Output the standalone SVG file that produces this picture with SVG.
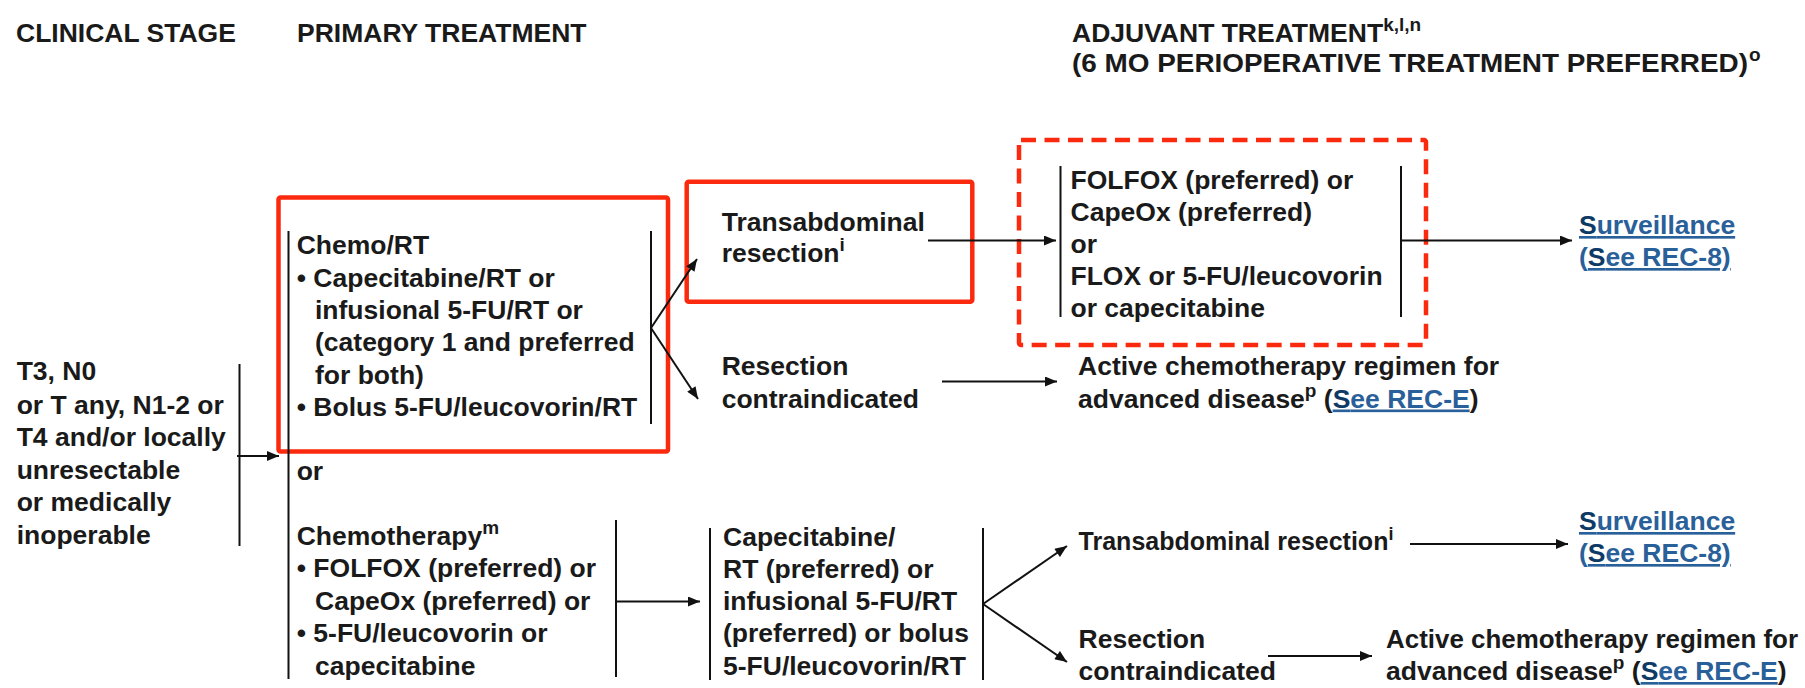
<svg xmlns="http://www.w3.org/2000/svg" width="1805" height="688" viewBox="0 0 1805 688">
<defs>
<style>
text{font-family:"Liberation Sans",Arial,sans-serif;font-size:26.5px;font-weight:bold;fill:#1a1a1a}
.sup{font-size:19px}
.lk{fill:#2a6099;text-decoration:underline}
.lkS{fill:#0e3a66}
.br{stroke:#111;stroke-width:2;fill:none}
.ar{stroke:#111;stroke-width:2;fill:none;marker-end:url(#ah)}
.red{fill:none;stroke:#fb2a0e;stroke-width:4.5}
.dash{fill:none;stroke:#fb2a0e;stroke-width:4.5;stroke-dasharray:15 8.5}
</style>
<marker id="ah" viewBox="0 0 12 10" refX="12" refY="5" markerWidth="13" markerHeight="10" markerUnits="userSpaceOnUse" orient="auto"><path d="M0,0 L12,5 L0,10 z" fill="#111"/></marker>
</defs>
<rect width="1805" height="688" fill="#fff"/>

<g id="headers">
<text x="16" y="41.5">CLINICAL STAGE</text>
<text x="297" y="41.5">PRIMARY TREATMENT</text>
<text x="1072" y="41.5">ADJUVANT TREATMENT<tspan class="sup" dy="-11">k,l,n</tspan></text>
<text x="1072" y="72" textLength="676" lengthAdjust="spacingAndGlyphs">(6 MO PERIOPERATIVE TREATMENT PREFERRED)</text>
<text x="1749" y="61" class="sup">o</text>
</g>

<g id="highlights">
<rect class="red" x="278.5" y="197.5" width="389.5" height="254" rx="2"/>
<rect class="red" x="686.7" y="181.7" width="285.6" height="120" rx="2"/>
<rect class="dash" x="1019" y="140" width="407" height="205" rx="2"/>
</g>

<g id="connectors">
<line class="br" x1="239.5" y1="364" x2="239.5" y2="546"/>
<line class="ar" x1="237" y1="456" x2="279" y2="456"/>
<line class="br" x1="288.5" y1="231" x2="288.5" y2="679"/>
<line class="br" x1="651" y1="231" x2="651" y2="424"/>
<line class="ar" x1="651" y1="328" x2="697" y2="259"/>
<line class="ar" x1="651" y1="328" x2="698" y2="399"/>
<line class="ar" x1="928" y1="240.5" x2="1056" y2="240.5"/>
<line class="br" x1="1060.5" y1="166" x2="1060.5" y2="317"/>
<line class="br" x1="1401" y1="166" x2="1401" y2="317"/>
<line class="ar" x1="1401" y1="240.5" x2="1572" y2="240.5"/>
<line class="ar" x1="942" y1="381.5" x2="1057" y2="381.5"/>
<line class="br" x1="616" y1="520" x2="616" y2="677"/>
<line class="ar" x1="616" y1="601.5" x2="700" y2="601.5"/>
<line class="br" x1="710" y1="528" x2="710" y2="680"/>
<line class="br" x1="983" y1="528" x2="983" y2="680"/>
<line class="ar" x1="983" y1="604" x2="1067" y2="546"/>
<line class="ar" x1="983" y1="604" x2="1067" y2="662"/>
<line class="ar" x1="1410" y1="544" x2="1568" y2="544"/>
<line class="ar" x1="1268" y1="656" x2="1372" y2="656"/>
</g>

<g id="n-stage">
<text x="16.7" y="380">T3, N0</text>
<text x="16.7" y="413.5">or T any, N1-2 or</text>
<text x="16.7" y="446">T4 and/or locally</text>
<text x="16.7" y="478.5">unresectable</text>
<text x="16.7" y="511">or medically</text>
<text x="16.7" y="543.5">inoperable</text>
</g>

<g id="n-chemort">
<text x="296.7" y="254">Chemo/RT</text>
<text x="296.7" y="286.5">• Capecitabine/RT or</text>
<text x="315" y="319">infusional 5-FU/RT or</text>
<text x="315" y="351">(category 1 and preferred</text>
<text x="315" y="383.5">for both)</text>
<text x="296.7" y="416">• Bolus 5-FU/leucovorin/RT</text>
</g>

<g id="n-or">
<text x="296.7" y="480">or</text>
</g>

<g id="n-transab1">
<text x="721.7" y="231">Transabdominal</text>
<text x="721.7" y="262">resection<tspan class="sup" dy="-11">i</tspan></text>
</g>

<g id="n-resci1">
<text x="721.7" y="375">Resection</text>
<text x="721.7" y="407.5">contraindicated</text>
</g>

<g id="n-adjuvant">
<text x="1070.5" y="188.5">FOLFOX (preferred) or</text>
<text x="1070.5" y="220.5">CapeOx (preferred)</text>
<text x="1070.5" y="252.5">or</text>
<text x="1070.5" y="284.5">FLOX or 5-FU/leucovorin</text>
<text x="1070.5" y="316.5">or capecitabine</text>
</g>

<g id="n-surv1">
<text x="1579" y="234" class="lk"><tspan class="lkS">S</tspan>urveillance</text>
<text x="1579" y="266" class="lk">(<tspan class="lkS">S</tspan>ee REC-8)</text>
</g>

<g id="n-active1">
<text x="1078" y="375">Active chemotherapy regimen for</text>
<text x="1078" y="407.5">advanced disease<tspan class="sup" dy="-11">p</tspan><tspan dy="11"> (</tspan><tspan class="lk"><tspan class="lkS">S</tspan>ee REC-E</tspan>)</text>
</g>

<g id="n-chemo">
<text x="296.7" y="544.5">Chemotherapy<tspan class="sup" dy="-11">m</tspan></text>
<text x="296.7" y="577">• FOLFOX (preferred) or</text>
<text x="315" y="609.5">CapeOx (preferred) or</text>
<text x="296.7" y="642">• 5-FU/leucovorin or</text>
<text x="315" y="674.5">capecitabine</text>
</g>

<g id="n-capert">
<text x="723" y="545.5">Capecitabine/</text>
<text x="723" y="577.8">RT (preferred) or</text>
<text x="723" y="610.1">infusional 5-FU/RT</text>
<text x="723" y="642.4">(preferred) or bolus</text>
<text x="723" y="674.7">5-FU/leucovorin/RT</text>
</g>

<g id="n-transab2">
<text x="1078.6" y="550" style="font-size:25px">Transabdominal resection<tspan style="font-size:18px" dy="-10">i</tspan></text>
</g>

<g id="n-surv2">
<text x="1579" y="530" class="lk"><tspan class="lkS">S</tspan>urveillance</text>
<text x="1579" y="562" class="lk">(<tspan class="lkS">S</tspan>ee REC-8)</text>
</g>

<g id="n-resci2">
<text x="1078.6" y="648">Resection</text>
<text x="1078.6" y="680">contraindicated</text>
</g>

<g id="n-active2">
<text x="1386" y="648" textLength="412" lengthAdjust="spacingAndGlyphs">Active chemotherapy regimen for</text>
<text x="1386" y="680">advanced disease<tspan class="sup" dy="-11">p</tspan><tspan dy="11"> (</tspan><tspan class="lk"><tspan class="lkS">S</tspan>ee REC-E</tspan>)</text>
</g>
</svg>
